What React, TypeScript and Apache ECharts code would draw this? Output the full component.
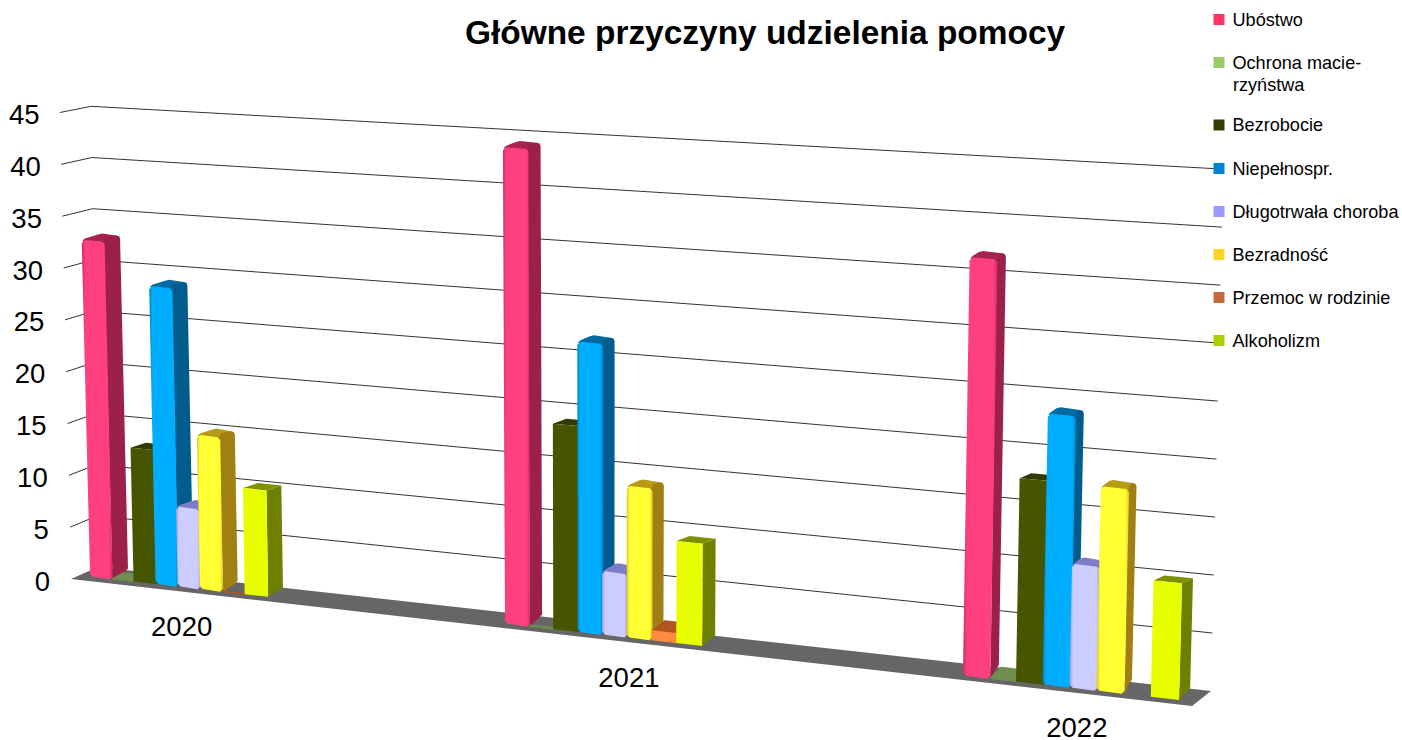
import React, { useEffect, useRef } from "react";
import * as echarts from "echarts";

const title = "Główne przyczyny udzielenia pomocy";
const categories = ["2020", "2021", "2022"];
const yTicks = [0, 5, 10, 15, 20, 25, 30, 35, 40, 45];

const ubostwo = [32.4, 43.4, 36];
const ochrona = [0, 0, 0];
const bezrobocie = [12.8, 18.6, 17.4];
const niepelnospr = [28.4, 26.2, 23.1];
const dlugotrwala = [7.6, 5.7, 10.5];
const bezradnosc = [14.6, 13.6, 17.3];
const przemoc = [0, 0.9, null];
const alkoholizm = [10, 9.1, 9.8];

const seriesDefs = [
  { name: "Ubóstwo", values: ubostwo, legend: "#ff3366", face: "#ff4080", edge: "#d02a60", side: "#9c2148", top: "#a82450", round: true, legendY: 19.5 },
  { name: "Ochrona macierzyństwa", label: "Ochrona macie-", values: ochrona, legend: "#99cc66", face: "#6f8f4f", edge: "#6f8f4f", side: "#55703a", top: "#6f8f4f", round: false, legendY: 62.5, flat: [0.7, 0.15, 1] },
  { name: "Bezrobocie", values: bezrobocie, legend: "#333f00", face: "#465600", edge: "#3e4c00", side: "#3f4d00", top: "#303b00", round: false, legendY: 125 },
  { name: "Niepełnospr.", values: niepelnospr, legend: "#0084d1", face: "#00aeff", edge: "#0088cc", side: "#005c8c", top: "#006ca3", round: true, legendY: 168.5 },
  { name: "Długotrwała choroba", values: dlugotrwala, legend: "#9999ff", face: "#ccccff", edge: "#9c9cdc", side: "#6f6fb8", top: "#7c7cc8", round: true, legendY: 211.5 },
  { name: "Bezradność", values: bezradnosc, legend: "#ffd320", face: "#ffff33", edge: "#e0c820", side: "#a08012", top: "#b89a14", round: true, legendY: 254.5 },
  { name: "Przemoc w rodzinie", values: przemoc, legend: "#c5683b", face: "#ff8c3c", edge: "#e87a30", side: "#a85020", top: "#b4541f", round: false, legendY: 297.5, flat: [0.06, 1, 0] },
  { name: "Alkoholizm", values: alkoholizm, legend: "#aecf00", face: "#e8ff00", edge: "#e8ff00", side: "#6f7f00", top: "#7f9000", round: false, legendY: 340.5 },
];

const GRID_LEFT = 51;
const T_SCALE = 393.5;
const SLOT = 0.055;
const BAR_T = 0.057;
const LABEL_T = [0.23, 1.28, 2.235];

const tOf = (px: number) => (px - GRID_LEFT) / T_SCALE;
const xOfT = (t: number) => 90 + T_SCALE * t + 21.5 * t * t;
const edgeY = (x: number) => 579 + 0.1133 * (x - 71);
const scaleAt = (x: number) => 1 + (x - 71) * 0.000135;
const lean = (x: number, v: number) => x + (x - 600) * 0.0005 * v;

function barRender(def: any) {
  return (params: any, api: any) => {
    const t = api.value(0);
    const v = api.value(1);
    if (v == null || Number.isNaN(v)) return { type: "group", children: [] };
    const c0 = api.coord([t, 0]);
    const cv = api.coord([t, v]);
    const c1 = api.coord([t + BAR_T, 0]);
    const xl = xOfT(tOf(c0[0]));
    const xr = xOfT(tOf(c1[0]));
    const hpx = c0[1] - cv[1];
    const pt = (x: number) => {
      const base = edgeY(x) - 4.5;
      return {
        b: [x, base],
        t: [lean(x, v), base - hpx * scaleAt(x)],
      };
    };
    const L = pt(xl);
    const R = pt(xr);
    const fl = L.t, fr = R.t;
    const children: any[] = [];
    let dx = 15.5 - (def.round ? 0.008 : 0.0042) * (xr - 110);
    let dyBase = -(9 + 0.0028 * (xr - 110));
    if (v === 0) {
      const f = def.flat ? def.flat[params.dataIndex] : 1;
      dx *= f;
      dyBase *= f;
      if (f <= 0) return { type: "group", children: [] };
      children.push({
        type: "polygon",
        shape: { points: [fl, fr, [fr[0] + dx, fr[1] + dyBase], [fl[0] + dx, fl[1] + dyBase]] },
        style: { fill: def.top, stroke: def.top, lineWidth: 0.6 },
      });
      return { type: "group", children };
    }
    const dyTop = dyBase + (-dyBase - 5) * Math.min(1, v / 8);
    const bl = [fl[0] + dx, fl[1] + dyTop];
    const brT = [fr[0] + dx, fr[1] + dyTop];
    const brB = [R.b[0] + dx, R.b[1] + dyBase];
    const c = def.round && v > 2 ? 3 : 0;
    const fill = def.round
      ? new echarts.graphic.LinearGradient(0, 0, 1, 0, [
          { offset: 0, color: def.edge },
          { offset: 0.12, color: def.face },
          { offset: 0.88, color: def.face },
          { offset: 1, color: def.edge },
        ])
      : def.face;
    const topPts = c
      ? [
          [fl[0] + 0.5, fl[1] + 1],
          [fl[0] + 3, fl[1] - 1.5],
          [bl[0] + 1, bl[1] - 0.5],
          [bl[0] + 5, bl[1] - 1.5],
          [brT[0] - 4, brT[1] - 1],
          [brT[0] - 1, brT[1]],
          [brT[0], brT[1] + 3],
          [fr[0], fr[1] + 2],
        ]
      : [fl, fr, brT, bl];
    const sidePts = c
      ? [
          [fr[0] - 1, fr[1]],
          [fr[0] + 1, fr[1] - 4],
          [brT[0] - 4, brT[1] - 1],
          [brT[0] - 1, brT[1]],
          [brT[0], brT[1] + 3],
          [brB[0], brB[1] - 2],
          [brB[0] - 3, brB[1] + 1.5],
          [R.b[0], R.b[1]],
        ]
      : [fr, brT, brB, R.b];
    const frontPts = c
      ? [[fl[0] + c, fl[1]], [fr[0] - c, fr[1]], [fr[0], fr[1] + c], [R.b[0], R.b[1] - c], [R.b[0] - c, R.b[1]], [L.b[0] + c, L.b[1]], [L.b[0], L.b[1] - c], [fl[0], fl[1] + c]]
      : [fl, fr, R.b, L.b];
    children.push({ type: "polygon", shape: { points: topPts }, style: { fill: def.top } });
    children.push({ type: "polygon", shape: { points: sidePts }, style: { fill: def.side } });
    children.push({ type: "polygon", shape: { points: frontPts }, style: { fill } });
    return { type: "group", children };
  };
}

function App() {
  const ref = useRef<HTMLDivElement>(null);
  useEffect(() => {
    const chart = echarts.init(ref.current!, undefined, { renderer: "svg" });
    const richY: any = {};
    yTicks.forEach((v) => {
      richY["a" + v] = { fontSize: 27.5, color: "#000", padding: [0, v * 0.23, 0, 0], fontFamily: "Liberation Sans" };
    });
    const barSeries = seriesDefs.map((def, i) => ({
      type: "custom",
      name: def.name,
      coordinateSystem: "cartesian2d",
      itemStyle: { color: def.legend },
      silent: true,
      z: 5 + i,
      renderItem: barRender(def),
      data: def.values.map((v, ci) => [ci + i * SLOT, v]),
    }));
    const option: any = {
      animation: false,
      backgroundColor: "#fff",
      textStyle: { fontFamily: "Liberation Sans" },
      title: {
        text: title,
        left: 760,
        top: 11,
        textAlign: "center",
        textStyle: { fontSize: 33.45, fontWeight: "bold", color: "#000", fontFamily: "Liberation Sans" },
      },
      legend: seriesDefs.map((def) => ({
        show: true,
        orient: "vertical",
        left: 1213.5,
        top: def.legendY - 10,
        padding: 0,
        itemWidth: 11,
        itemHeight: 11,
        itemGap: 0,
        selectedMode: false,
        icon: "rect",
        data: [{ name: def.name, itemStyle: { color: def.legend } }],
        formatter: () => def.label || def.name,
        textStyle: { fontSize: 18.1, color: "#000", padding: [0, 0, 0, 3], lineHeight: 20, fontFamily: "Liberation Sans" },
      })),
      grid: { left: GRID_LEFT, top: 114.5, width: T_SCALE * 3, height: 466.5, containLabel: false },
      xAxis: { type: "value", min: 0, max: 3, show: false },
      yAxis: {
        type: "value",
        min: 0,
        max: 45,
        interval: 5,
        axisLine: { show: false },
        axisTick: { show: false },
        splitLine: { show: false },
        axisLabel: {
          margin: 1,
          formatter: (v: number) => `{a${v}|${v}}`,
          rich: richY,
        },
      },
      graphic: [
        {
          type: "text",
          x: 1233,
          y: 85,
          style: { text: "rzyństwa", fontSize: 18.1, fill: "#000", fontFamily: "Liberation Sans", verticalAlign: "middle" },
        },
      ],
      series: [
        {
          type: "custom",
          name: "floor",
          coordinateSystem: "cartesian2d",
          silent: true,
          z: 1,
          data: [[0, 0]],
          renderItem: (_p: any, api: any) => {
            const y0 = api.coord([0, 0])[1] - 2;
            return {
              type: "polygon",
              shape: { points: [[71, y0], [1192, y0 + 127], [1211, y0 + 112], [98, y0 - 12]] },
              style: { fill: "#666666" },
            };
          },
        },
        {
          type: "custom",
          name: "gridlines",
          coordinateSystem: "cartesian2d",
          silent: true,
          z: 2,
          data: yTicks.filter((v) => v > 0).map((v) => [0, v]),
          renderItem: (_p: any, api: any) => {
            const v = api.value(1);
            const h = api.coord([0, 0])[1] - api.coord([0, v])[1];
            const y0 = api.coord([0, 0])[1] - 2;
            return {
              type: "polyline",
              shape: {
                points: [
                  [71.5 - 0.26 * v, y0 - h],
                  [98 - 0.15 * v, y0 - 12 - h * 0.9875],
                  [1211 + 0.27 * v, y0 + 112 - h * 1.1187],
                ],
              },
              style: { stroke: "#333333", lineWidth: 1, fill: "none" },
            };
          },
        },
        ...barSeries,
        {
          type: "custom",
          name: "categories",
          coordinateSystem: "cartesian2d",
          silent: true,
          z: 20,
          data: categories.map((c, i) => [LABEL_T[i], 0, c]),
          encode: { x: 0, y: 1 },
          renderItem: (p: any, api: any) => {
            const c = api.coord([api.value(0), 0]);
            const x = xOfT(tOf(c[0]));
            return {
              type: "text",
              x,
              y: edgeY(x) + 35,
              style: { text: categories[p.dataIndex], fontSize: 27.5, lineHeight: 20, fill: "#000", align: "center", verticalAlign: "middle", fontFamily: "Liberation Sans" },
            };
          },
        },
      ],
    };
    chart.setOption(option);
    return () => chart.dispose();
  }, []);
  return <div ref={ref} style={{ position: "fixed", left: 0, top: 0, width: 1402, height: 740 }} />;
}

export default App;
